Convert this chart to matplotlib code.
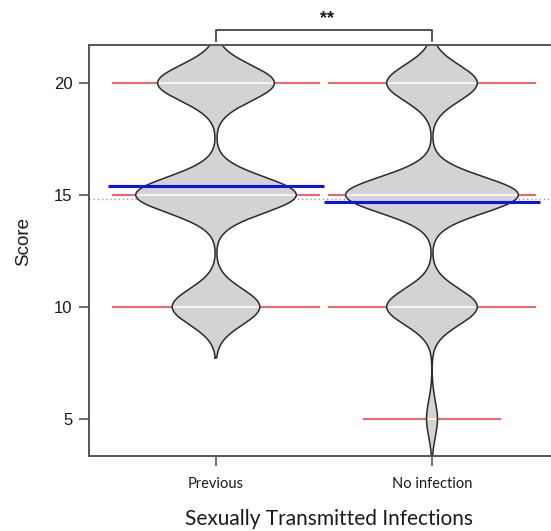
import numpy as np
import matplotlib
matplotlib.use("Agg")
import matplotlib.pyplot as plt

# ---- data ----
categories = ["Previous", "No infection"]
prev_values = [10, 15, 20]
prev_counts = [6, 11, 8]
noinf_values = [5, 10, 15, 20]
noinf_counts = [4, 33, 63, 33]
yticks = [5, 10, 15, 20]
xlabel = "Sexually Transmitted Infections"
ylabel = "Score"
signif = "**"

groups = [(prev_values, prev_counts), (noinf_values, noinf_counts)]

W, H = 551, 531
fig = plt.figure(figsize=(W / 100, H / 100), dpi=100)
ax = fig.add_axes([89 / W, 1 - 456 / H, (559 - 89) / W, (456 - 45) / H])
ax.set_xlim(1 - 127 / 216, 2 + 127 / 216)
ax.set_ylim(3.335, 21.70)

bw = 0.8
cut = 2.28
maxwidth = 0.8
ll = 0.16
maxline = 0.96
spine_col = "#555555"
red = "#E8696E"
blue = "#1010F0"

def dens(y, vals, cnts):
    vals = np.asarray(vals, float)
    cnts = np.asarray(cnts, float)
    p = cnts / cnts.sum()
    return (p[None, :] * np.exp(-0.5 * ((y[:, None] - vals[None, :]) / bw) ** 2)).sum(1) / (bw * np.sqrt(2 * np.pi))

curves = []
for vals, cnts in groups:
    y = np.linspace(min(vals) - cut, max(vals) + cut, 800)
    curves.append((y, dens(y, vals, cnts)))
dmax = max(d.max() for _, d in curves)

# overall mean line
all_vals = np.concatenate([np.repeat(v, c) for v, c in groups])
ax.axhline(all_vals.mean(), color="#999999", lw=1, ls=(0, (1, 2)), zorder=0.5)

for i, ((vals, cnts), (y, d)) in enumerate(zip(groups, curves)):
    xc = i + 1
    hw = maxwidth / 2 * d / dmax
    # bean lines (outside part red)
    for v, c in zip(vals, cnts):
        L = min(ll * c, maxline)
        ax.plot([xc - L / 2, xc + L / 2], [v, v], color=red, lw=1.5, zorder=1, solid_capstyle="butt")
    ax.fill_betweenx(y, xc - hw, xc + hw, facecolor="#D3D3D3", edgecolor="none", zorder=2)
    ax.plot(np.r_[xc - hw, (xc + hw)[::-1], xc - hw[0]], np.r_[y, y[::-1], y[0]],
            color="#2a2a2a", lw=1.1, zorder=2.2)
    for v, c in zip(vals, cnts):
        w = maxwidth / 2 * dens(np.array([v]), vals, cnts)[0] / dmax
        L = min(ll * c, maxline)
        w = min(w, L / 2)
        ax.plot([xc - w, xc + w], [v, v], color="#F2F2F2", lw=1.5, zorder=2.1, solid_capstyle="butt")
    m = np.repeat(vals, cnts).mean()
    ax.plot([xc - 0.5, xc + 0.5], [m, m], color=blue, lw=2.2, zorder=3, solid_capstyle="butt")

ax.set_xticks([1, 2])
ax.set_xticklabels(categories, family="Lato", fontsize=10.5, color="#1a1a1a")
ax.set_yticks(yticks)
ax.set_yticklabels([str(t) for t in yticks], family="Liberation Sans", fontsize=12, color="#1a1a1a")
ax.tick_params(axis="both", length=7, width=1.2, color=spine_col, direction="out")
ax.tick_params(axis="y", pad=5)
ax.tick_params(axis="x", pad=8)
for s in ["left", "top", "bottom", "right"]:
    ax.spines[s].set_color(spine_col)
    ax.spines[s].set_linewidth(1.4)

fig.text(24 / W, 1 - 242 / H, ylabel, rotation=90, ha="center", va="center",
         family="Liberation Sans", fontsize=13.5, color="#1a1a1a")
fig.text(329 / W, 1 - 519 / H, xlabel, ha="center", va="center",
         family="Lato", fontsize=15, color="#1a1a1a")

# significance bracket
yb_top = 20 + (83 - 30) / 22.4
yb_bot = 20 + (83 - 40.5) / 22.4
ax.plot([1, 1, 2, 2], [yb_bot, yb_top, yb_top, yb_bot], color="#444444", lw=1.3, clip_on=False)
fig.text(327 / W, 1 - 19 / H, signif, ha="center", va="center",
         family="Liberation Sans", fontsize=13, fontweight="bold", color="#1a1a1a")

fig.savefig("out.png", dpi=100)
